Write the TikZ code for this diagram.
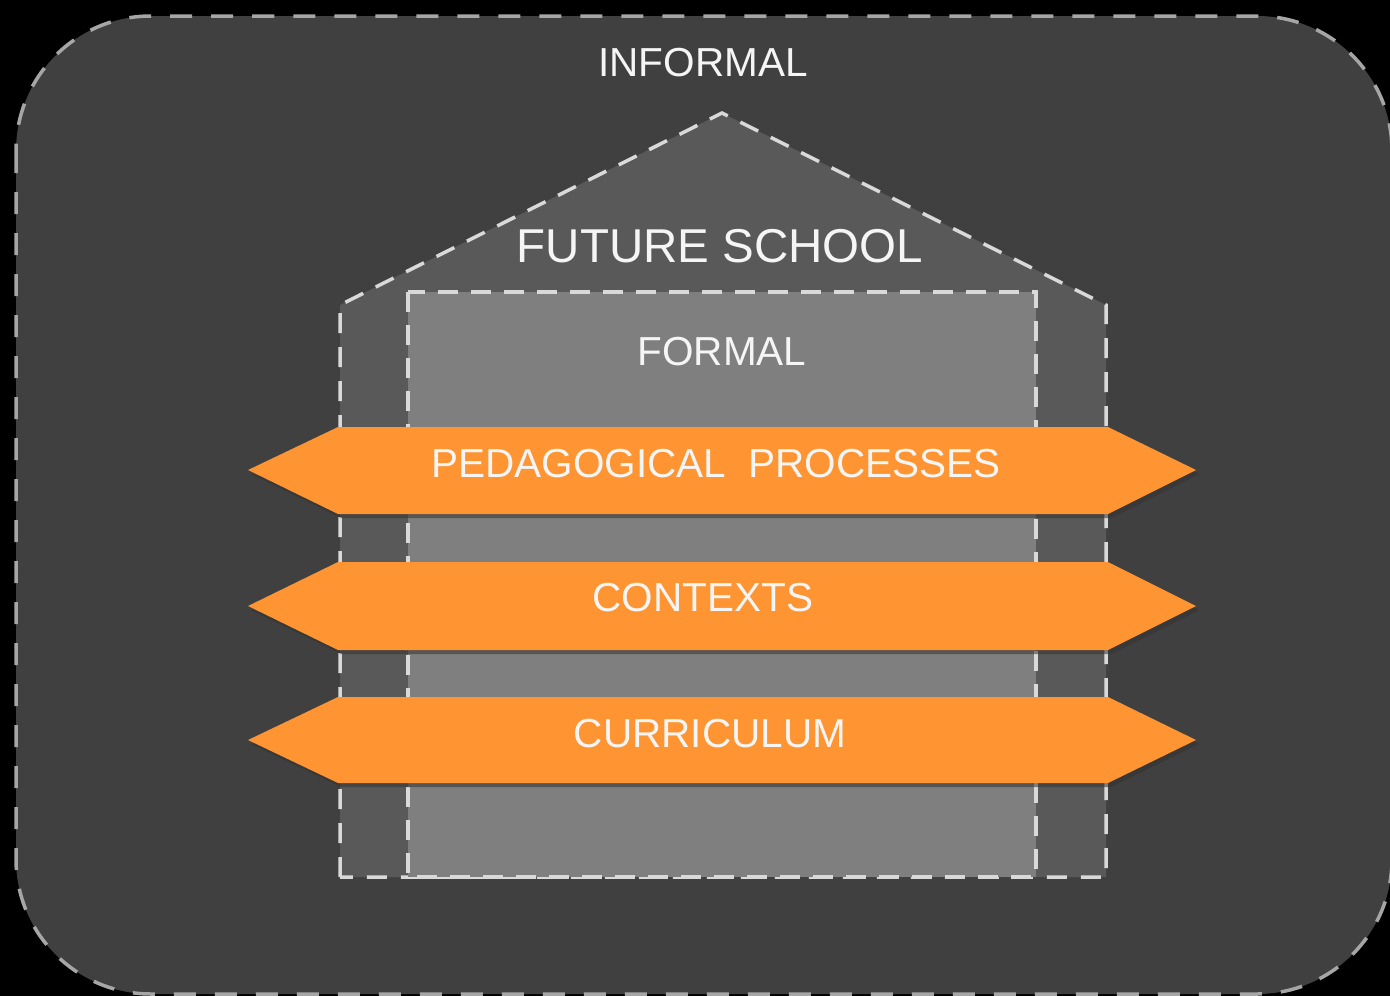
\documentclass[tikz,border=0pt]{standalone}
\usepackage{fontspec}
\setmainfont{Liberation Sans}
\usetikzlibrary{shadows}
\definecolor{outerfill}{HTML}{404040}
\definecolor{housefill}{HTML}{595959}
\definecolor{innerfill}{HTML}{7F7F7F}
\definecolor{dashcol}{HTML}{A6A6A6}
\definecolor{dashlight}{HTML}{D9D9D9}
\definecolor{bannercol}{HTML}{FE9532}
\definecolor{txtcol}{HTML}{F5F5F5}
\tikzset{
  outerbox/.style={fill=outerfill, draw=dashcol, line width=3.5pt, dash pattern=on 22pt off 19pt},
  housebox/.style={fill=housefill, draw=dashlight, line width=3.5pt, dash pattern=on 20pt off 14pt},
  innerbox/.style={fill=innerfill, draw=dashlight, line width=3.5pt, dash pattern=on 20pt off 13pt},
  banner/.style={fill=bannercol, draw=none, drop shadow={opacity=0.55, shadow xshift=3pt, shadow yshift=-4pt, fill=black!80}},
  lbl/.style={text=txtcol, font=\fontsize{40.5}{44}\selectfont, inner sep=0pt, anchor=base},
  biglbl/.style={text=txtcol, font=\fontsize{47.5}{52}\selectfont, inner sep=0pt, anchor=base}
}
\begin{document}
\begin{tikzpicture}[x=1pt,y=-1pt]
\fill[black] (0,0) rectangle (1390,996);
\useasboundingbox (0,0) rectangle (1390,996);
% outer informal region
\draw[outerbox, rounded corners=135pt] (16,16) rectangle (1392,994);
% house (future school)
\draw[housebox] (340,877) -- (340,305) -- (722,113) -- (1106,305) -- (1106,877) -- cycle;
% formal rect
\draw[innerbox] (408,292) rectangle (1036,877);
% banners
\fill[banner] (248,470) -- (338,427) -- (1108,427) -- (1196,470) -- (1108,514) -- (338,514) -- cycle;
\fill[banner] (248,606) -- (338,562) -- (1108,562) -- (1196,606) -- (1108,650) -- (338,650) -- cycle;
\fill[banner] (248,740) -- (338,697) -- (1108,697) -- (1196,740) -- (1108,783) -- (338,783) -- cycle;
% labels
\node[lbl] (informal) at (703,76) {INFORMAL};
\node[biglbl] (future) at (720,262) {FUTURE SCHOOL};
\node[lbl] (formal) at (722,365) {FORMAL};
\node[lbl] (peda) at (716,477) {PEDAGOGICAL\ \ PROCESSES};
\node[lbl] (contexts) at (703,611) {CONTEXTS};
\node[lbl] (curric) at (710,747) {CURRICULUM};
\end{tikzpicture}
\end{document}
